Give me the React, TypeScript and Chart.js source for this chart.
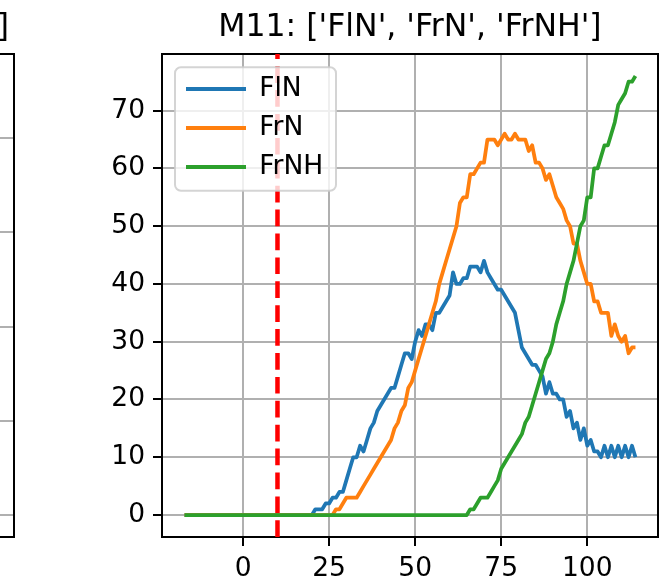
import React, { useEffect, useRef } from "react";
import { Chart, registerables } from "chart.js";

Chart.register(...registerables);

// ---------------- data ----------------
const chartTitle = "M11: ['FlN', 'FrN', 'FrNH']";
const leftTitle = "M10: ['FlN', 'FrN', 'FrNH', 'FNH']";
const seriesNames = ["FlN", "FrN", "FrNH"];
const seriesColors = ["#1f77b4", "#ff7f0e", "#2ca02c"];

const xValues = [
  -17, -16, -15, -14, -13, -12, -11, -10, -9, -8,
  -7, -6, -5, -4, -3, -2, -1, 0, 1, 2,
  3, 4, 5, 6, 7, 8, 9, 10, 11, 12,
  13, 14, 15, 16, 17, 18, 19, 20, 21, 22,
  23, 24, 25, 26, 27, 28, 29, 30, 31, 32,
  33, 34, 35, 36, 37, 38, 39, 40, 41, 42,
  43, 44, 45, 46, 47, 48, 49, 50, 51, 52,
  53, 54, 55, 56, 57, 58, 59, 60, 61, 62,
  63, 64, 65, 66, 67, 68, 69, 70, 71, 72,
  73, 74, 75, 76, 77, 78, 79, 80, 81, 82,
  83, 84, 85, 86, 87, 88, 89, 90, 91, 92,
  93, 94, 95, 96, 97, 98, 99, 100, 101, 102,
  103, 104, 105, 106, 107, 108, 109, 110, 111, 112,
  113, 114,
];

const flN = [
  0, 0, 0, 0, 0, 0, 0, 0, 0, 0,
  0, 0, 0, 0, 0, 0, 0, 0, 0, 0,
  0, 0, 0, 0, 0, 0, 0, 0, 0, 0,
  0, 0, 0, 0, 0, 0, 0, 0, 1, 1,
  1, 2, 2, 3, 3, 4, 4, 6, 8, 10,
  10, 12, 11, 13, 15, 16, 18, 19, 20, 21,
  22, 22, 24, 26, 28, 28, 27, 30, 32, 31,
  33, 33, 32, 35, 35, 36, 37, 38, 42, 40,
  40, 41, 41, 43, 43, 43, 42, 44, 42, 41,
  40, 39, 39, 38, 37, 36, 35, 32, 29, 28,
  27, 26, 26, 25, 24, 21, 23, 21, 21, 20,
  20, 17, 18, 15, 16, 13, 15, 12, 13, 11,
  11, 10, 12, 10, 12, 10, 12, 10, 12, 10,
  12, 10,
];

const frN = [
  0, 0, 0, 0, 0, 0, 0, 0, 0, 0,
  0, 0, 0, 0, 0, 0, 0, 0, 0, 0,
  0, 0, 0, 0, 0, 0, 0, 0, 0, 0,
  0, 0, 0, 0, 0, 0, 0, 0, 0, 0,
  0, 0, 0, 0, 1, 1, 2, 3, 3, 3,
  3, 4, 5, 6, 7, 8, 9, 10, 11, 12,
  13, 15, 16, 18, 19, 22, 23, 25, 27, 29,
  31, 33, 35, 37, 40, 42, 44, 46, 48, 50,
  54, 55, 55, 59, 59, 60, 61, 61, 65, 65,
  65, 64, 65, 66, 65, 65, 66, 65, 65, 65,
  63, 64, 61, 61, 60, 58, 59, 57, 55, 54,
  53, 51, 50, 47, 47, 44, 42, 40, 40, 37,
  37, 35, 35, 35, 31, 33, 31, 30, 31, 28,
  29, 29,
];

const frNH = [
  0, 0, 0, 0, 0, 0, 0, 0, 0, 0,
  0, 0, 0, 0, 0, 0, 0, 0, 0, 0,
  0, 0, 0, 0, 0, 0, 0, 0, 0, 0,
  0, 0, 0, 0, 0, 0, 0, 0, 0, 0,
  0, 0, 0, 0, 0, 0, 0, 0, 0, 0,
  0, 0, 0, 0, 0, 0, 0, 0, 0, 0,
  0, 0, 0, 0, 0, 0, 0, 0, 0, 0,
  0, 0, 0, 0, 0, 0, 0, 0, 0, 0,
  0, 0, 0, 1, 1, 2, 3, 3, 3, 4,
  5, 6, 8, 9, 10, 11, 12, 13, 14, 16,
  17, 19, 21, 23, 25, 27, 28, 30, 33, 35,
  37, 40, 42, 44, 47, 50, 51, 55, 55, 60,
  60, 62, 64, 64, 66, 68, 71, 72, 73, 75,
  75, 76,
];

const thresholdX = 10;

const xTicks = [0, 25, 50, 75, 100];
const yTicks = [0, 10, 20, 30, 40, 50, 60, 70];
const X_MIN = -23.55;
const X_MAX = 120.55;
const Y_MIN = -3.8;
const Y_MAX = 79.8;

const leftYTicks = [0, 20, 40, 60, 80];
const LEFT_Y_MIN = -4.67;
const LEFT_Y_MAX = 97.85;

// ---------------- styling helpers ----------------
const FONT = "DejaVu Sans";
const TICK_SIZE = 26.5;
const TITLE_SIZE = 31.5;

function axis(ticksArr: number[], pad: number, extra: any) {
  return {
    type: "linear",
    grid: {
      color: "#b0b0b0",
      lineWidth: 2,
      tickColor: "#000",
      tickLength: 9,
      tickWidth: 2,
      drawTicks: true,
    },
    border: { display: true, color: "#000", width: 2 },
    ticks: {
      font: { family: FONT, size: TICK_SIZE },
      color: "#000",
      padding: pad,
      autoSkip: false,
      maxRotation: 0,
      callback: (v: any) => String(v),
    },
    afterBuildTicks: (a: any) => {
      a.ticks = ticksArr.map((v) => ({ value: v }));
    },
    ...extra,
  };
}

function frameAxis(position: string) {
  return {
    type: "linear",
    position,
    display: true,
    grid: { display: false, drawTicks: false },
    ticks: { display: false },
    border: { display: true, color: "#000", width: 2 },
    afterFit: (a: any) => {
      if (position === "top") a.height = 0;
      else a.width = 0;
    },
  };
}

function scalesFor(yT: number[], yMin: number, yMax: number) {
  return {
    x: axis(xTicks, 7, {
      position: "bottom",
      min: X_MIN,
      max: X_MAX,
      afterFit: (a: any) => {
        a.height = 48;
      },
    }),
    y: axis(yT, 8, {
      position: "left",
      min: yMin,
      max: yMax,
      afterFit: (a: any) => {
        a.width = 162;
      },
    }),
    xTop: frameAxis("top"),
    yRight: frameAxis("right"),
  };
}

function titleFor(text: string) {
  return {
    display: true,
    text,
    color: "#000",
    fullSize: false,
    font: { family: FONT, size: TITLE_SIZE, weight: "normal" },
    padding: { top: 8.6, bottom: 7.6 },
  };
}

const legendFramePlugin = {
  id: "legendFrame",
  beforeDraw(chart: any) {
    const lg = chart.legend;
    const ca = chart.chartArea;
    if (!lg || !ca) return;
    lg.left = ca.left + 11.5;
    lg.top = ca.top + 9.25;
    lg.right = lg.left + 320;
    lg.bottom = lg.top + 220;
  },
  afterDatasetsDraw(chart: any) {
    const lg = chart.legend;
    const ca = chart.chartArea;
    const ctx = chart.ctx;
    if (!lg || !ca) return;
    ctx.save();
    const x = ca.left + 13;
    const y = ca.top + 13.3;
    const w = 161;
    const h = 123.4;
    ctx.beginPath();
    if (ctx.roundRect) ctx.roundRect(x, y, w, h, 6);
    else ctx.rect(x, y, w, h);
    ctx.fillStyle = "rgba(255,255,255,0.8)";
    ctx.fill();
    ctx.strokeStyle = "rgba(204,204,204,0.85)";
    ctx.lineWidth = 2;
    ctx.stroke();
    ctx.restore();
    lg.draw();
  },
};

function mainConfig(): any {
  const seriesData = [flN, frN, frNH];
  const datasets: any[] = seriesData.map((vals, si) => ({
    label: seriesNames[si],
    data: xValues.map((x, i) => ({ x, y: vals[i] })),
    borderColor: seriesColors[si],
    backgroundColor: seriesColors[si],
    borderWidth: 3.75,
    pointRadius: 0,
    tension: 0,
    fill: false,
    borderJoinStyle: "round",
    borderCapStyle: "butt",
    order: 3 - si,
  }));
  datasets.push({
    label: "threshold",
    data: [
      { x: thresholdX, y: Y_MIN },
      { x: thresholdX, y: Y_MAX },
    ],
    borderColor: "#ff0000",
    backgroundColor: "#ff0000",
    borderWidth: 4.5,
    borderDash: [16.7, 7.2],
    pointRadius: 0,
    tension: 0,
    fill: false,
    order: 0,
  });
  return {
    type: "line",
    data: { datasets },
    options: {
      responsive: false,
      animation: false,
      events: [],
      layout: { padding: { left: 0, right: 12, top: 0, bottom: 0 } },
      scales: scalesFor(yTicks, Y_MIN, Y_MAX),
      plugins: {
        title: titleFor(chartTitle),
        tooltip: { enabled: false },
        legend: {
          display: true,
          position: "chartArea",
          align: "start",
          labels: {
            color: "#000",
            font: { family: FONT, size: TICK_SIZE },
            boxWidth: 60,
            boxHeight: 4,
            padding: 12.5,
            sort: (a: any, b: any) => a.datasetIndex - b.datasetIndex,
            generateLabels: (chart: any) =>
              (Chart as any).defaults.plugins.legend.labels
                .generateLabels(chart)
                .filter((l: any) => l.datasetIndex < seriesNames.length)
                .map((l: any) => ({ ...l, fillStyle: l.strokeStyle, lineWidth: 0, lineDash: [] })),
          },
        },
      },
    },
    plugins: [legendFramePlugin],
  };
}

function leftConfig(): any {
  return {
    type: "line",
    data: { datasets: [] },
    options: {
      responsive: false,
      animation: false,
      events: [],
      layout: { padding: { left: 0, right: 12, top: 0, bottom: 0 } },
      scales: scalesFor(leftYTicks, LEFT_Y_MIN, LEFT_Y_MAX),
      plugins: {
        title: titleFor(leftTitle),
        tooltip: { enabled: false },
        legend: { display: false },
      },
    },
  };
}

export default function App() {
  const mainRef = useRef<HTMLCanvasElement>(null);
  const leftRef = useRef<HTMLCanvasElement>(null);

  useEffect(() => {
    const charts: Chart[] = [];
    if (leftRef.current) charts.push(new Chart(leftRef.current, leftConfig()));
    if (mainRef.current) charts.push(new Chart(mainRef.current, mainConfig()));
    return () => {
      charts.forEach((c) => c.destroy());
    };
  }, []);

  return (
    <div
      style={{
        position: "fixed",
        left: 0,
        top: 0,
        width: 670,
        height: 585,
        overflow: "hidden",
        background: "#ffffff",
      }}
    >
      <canvas
        ref={leftRef}
        width={670}
        height={585}
        style={{ position: "absolute", left: -644, top: 0, width: 670, height: 585 }}
      />
      <canvas
        ref={mainRef}
        width={670}
        height={585}
        style={{ position: "absolute", left: 0, top: 0, width: 670, height: 585 }}
      />
    </div>
  );
}
